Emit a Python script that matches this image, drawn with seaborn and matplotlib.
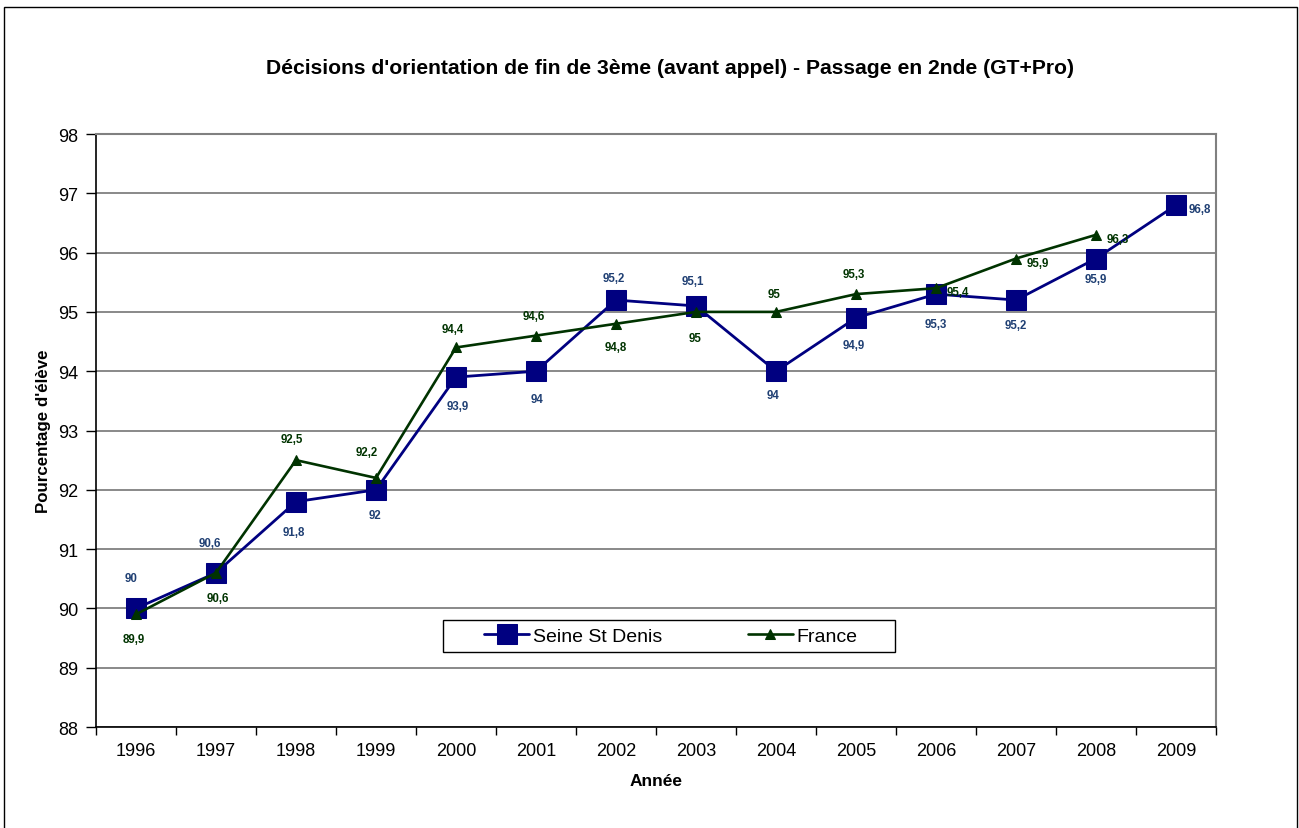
import numpy as np
import pandas as pd
import matplotlib
matplotlib.use('Agg')
import matplotlib.pyplot as plt
import seaborn as sns
from matplotlib.patches import Rectangle

# Données
annees = [1996, 1997, 1998, 1999, 2000, 2001, 2002, 2003, 2004, 2005, 2006, 2007, 2008, 2009]
seine_st_denis = [90, 90.6, 91.8, 92, 93.9, 94, 95.2, 95.1, 94, 94.9, 95.3, 95.2, 95.9, 96.8]
france = [89.9, 90.6, 92.5, 92.2, 94.4, 94.6, 94.8, 95, 95, 95.3, 95.4, 95.9, 96.3, np.nan]

# Décalage des étiquettes (pixels)
dec_seine = [(-5, 30), (-6, 30), (-2, -30), (-1, -25), (2, -29), (1, -28), (-2, 22),
             (-3, 25), (-3, -24), (-2, -27), (0, -30), (0, -25), (0, -20), (24, -4)]
dec_france = [(-2, -25), (2, -25), (-4, 21), (-9, 26), (-3, 18), (-2, 20), (0, -23),
              (-1, -26), (-2, 18), (-2, 20), (22, -4), (22, -4), (22, -4), (0, 0)]

bleu = '#000080'
vert = '#003300'
bleu_txt = '#1F3F73'

sns.set_style('white')
plt.rcParams['font.family'] = ['Liberation Sans', 'DejaVu Sans']
plt.rcParams['text.color'] = 'black'
plt.rcParams['axes.labelcolor'] = 'black'
plt.rcParams['xtick.color'] = 'black'
plt.rcParams['ytick.color'] = 'black'

df = pd.DataFrame({'pos': np.arange(len(annees)), 'seine': seine_st_denis, 'france': france})

fig = plt.figure(figsize=(12.99, 8.29), dpi=100)
ax = fig.add_axes([96 / 1299, 1 - 728 / 829, 1120 / 1299, 593 / 829])

sns.lineplot(data=df, x='pos', y='seine', ax=ax, color=bleu, lw=2.0, marker='s',
             markersize=14, markeredgecolor=bleu, label='Seine St Denis', zorder=3)
sns.lineplot(data=df.dropna(), x='pos', y='france', ax=ax, color=vert, lw=1.9, marker='^',
             markersize=7.5, markeredgecolor=vert, label='France', zorder=4)

for i, v in enumerate(seine_st_denis):
    ax.annotate(f'{v:g}'.replace('.', ','), (i, v), xytext=dec_seine[i],
                textcoords='offset pixels', ha='center', va='center',
                fontsize=8.3, fontweight='bold', color=bleu_txt, zorder=5)
for i, v in enumerate(france):
    if np.isnan(v):
        continue
    ax.annotate(f'{v:g}'.replace('.', ','), (i, v), xytext=dec_france[i],
                textcoords='offset pixels', ha='center', va='center',
                fontsize=8.3, fontweight='bold', color=vert, zorder=5)

ax.set_xlim(-0.5, len(annees) - 0.5)
ax.set_ylim(88, 98)
ax.set_yticks(range(88, 99))
ax.yaxis.grid(True, color='#808080', lw=1.3)
ax.set_axisbelow(True)

ax.set_xticks(np.arange(-0.5, len(annees), 1))
ax.set_xticklabels([])
ax.set_xticks(np.arange(len(annees)), minor=True)
ax.set_xticklabels([str(a) for a in annees], minor=True, fontsize=13)
ax.tick_params(axis='x', which='major', length=6, width=1, color='black', direction='out', bottom=True)
ax.tick_params(axis='x', which='minor', length=0, pad=11)
ax.tick_params(axis='y', length=7, width=1, color='black', direction='out', left=True,
               labelsize=13, pad=6)

for s in ['left', 'bottom']:
    ax.spines[s].set_color('black')
    ax.spines[s].set_linewidth(1.2)
for s in ['top', 'right']:
    ax.spines[s].set_color('#808080')
    ax.spines[s].set_linewidth(1.5)

ax.set_xlabel('Année', fontsize=12.5, fontweight='bold', labelpad=10)
ax.set_ylabel("Pourcentage d'élève", fontsize=12.2, fontweight='bold', labelpad=5)

fig.text(670 / 1299, 1 - 68 / 829, "Décisions d'orientation de fin de 3ème (avant appel) - Passage en 2nde (GT+Pro)",
         ha='center', va='center', fontsize=15.2, fontweight='bold')

# Légende sans cadre + cadre dessiné à part
ax.legend(loc='center', bbox_to_anchor=(575 / 1120, 91 / 593), ncol=2, frameon=False,
          fontsize=14, handlelength=2.3, handletextpad=0.2, columnspacing=4.4, borderaxespad=0)
ax.add_patch(Rectangle((347 / 1120, 75 / 593), 452 / 1120, 32 / 593, transform=ax.transAxes,
                       fill=True, facecolor='white', edgecolor='black', lw=1.0, zorder=4.5))

fig.patches.append(Rectangle((4 / 1299, -0.05), 1293 / 1299, 1.05 - 8 / 829, transform=fig.transFigure,
                             fill=False, edgecolor='black', lw=1.0))

fig.savefig('out.png', dpi=100)
